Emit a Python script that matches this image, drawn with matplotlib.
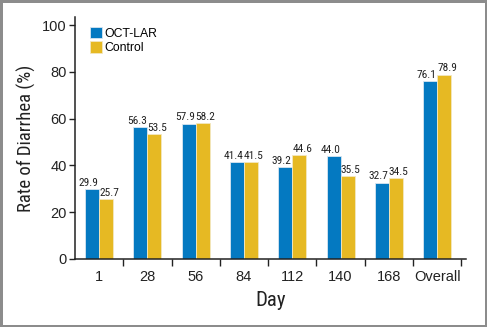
import numpy as np
import matplotlib
matplotlib.use("Agg")
import matplotlib.pyplot as plt

days = ["1", "28", "56", "84", "112", "140", "168", "Overall"]
oct_lar = [29.9, 56.3, 57.9, 41.4, 39.2, 44.0, 32.7, 76.1]
control = [25.7, 53.5, 58.2, 41.5, 44.6, 35.5, 34.5, 78.9]

blue = "#0479c1"
gold = "#e6b923"
ink = "#222222"
narrow = ["Roboto Condensed", "DejaVu Sans"]

plt.rcParams['font.family'] = ['Liberation Sans', 'DejaVu Sans']

fig = plt.figure(figsize=(4.87, 3.27), dpi=100)
fig.patch.set_edgecolor("#8c8c8c")
fig.patch.set_linewidth(2.5)
ax = fig.add_axes([0.154, 0.208, 0.803, 0.74])

x = np.arange(len(days))
w = 0.29
b1 = ax.bar(x - w / 2, oct_lar, w, color=blue, edgecolor="#d8e6f0", linewidth=0.6, label="OCT-LAR")
b2 = ax.bar(x + w / 2, control, w, color=gold, edgecolor="#f3e7c0", linewidth=0.6, label="Control")

# value labels, nudged apart a little like the original
for rect, v in zip(b1, oct_lar):
    ax.text(rect.get_x() + rect.get_width() / 2 - 0.07, v + 0.5, "%.1f" % v, ha="center", va="bottom",
            fontsize=8.2, family=narrow, color=ink)
for rect, v in zip(b2, control):
    ax.text(rect.get_x() + rect.get_width() / 2 + 0.06, v + 0.5, "%.1f" % v, ha="center", va="bottom",
            fontsize=8.2, family=narrow, color=ink)

ax.set_xlim(-0.5, 7.6)
ax.set_ylim(0, 103.5)
ax.set_yticks([0, 20, 40, 60, 80, 100])
ax.tick_params(axis="y", labelsize=10.5, length=4, width=1, pad=2, colors=ink)
ax.set_xticks(x)
ax.set_xticklabels(days)
ax.set_xticks(np.arange(0.5, 8, 1), minor=True)
ax.tick_params(axis="x", which="major", length=0, labelsize=10.5, pad=8, colors=ink)
ax.tick_params(axis="x", which="minor", length=5, width=1, color=ink)

for s in ["top", "right"]:
    ax.spines[s].set_visible(False)
for s in ["left", "bottom"]:
    ax.spines[s].set_linewidth(1.1)
    ax.spines[s].set_color(ink)

ax.set_ylabel("Rate of Diarrhea (%)", fontsize=13.5, family=narrow, color=ink, labelpad=4)
ax.set_xlabel("Day", fontsize=15, family=narrow, color=ink, labelpad=5)

ax.legend(loc="upper left", bbox_to_anchor=(0.02, 0.99), frameon=False, fontsize=8.8,
          handlelength=1.0, handleheight=1.05, handletextpad=0.2, labelspacing=0.15, borderaxespad=0.2)

fig.savefig("out.png", dpi=100)
